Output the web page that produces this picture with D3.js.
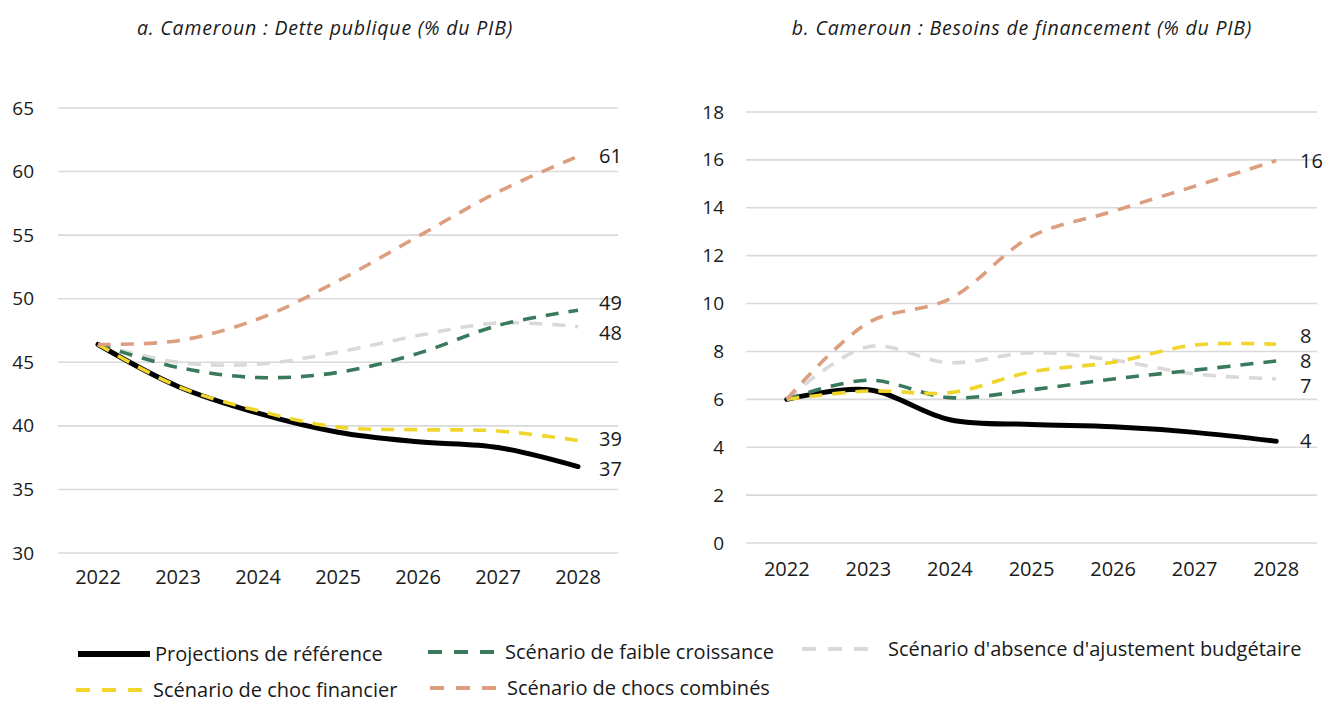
<!DOCTYPE html>
<html>
<head>
<meta charset="utf-8">
<script src="https://cdn.jsdelivr.net/npm/d3@7"></script>
<style>
  html, body { margin: 0; padding: 0; background: #fff; }
  svg { display: block; }
  text { font-family: "Open Sans", "Noto Sans", sans-serif; fill: #1a1a1a; }
</style>
</head>
<body>
<svg id="chart" width="1337" height="702"></svg>
<script>
// Years on the x axis
const years = ["2022", "2023", "2024", "2025", "2026", "2027", "2028"];

// Panel a: public debt (% of GDP)
const detteReference   = [46.4, 43.1, 41.0, 39.5, 38.75, 38.3, 36.8];
const detteFaible      = [46.4, 44.6, 43.8, 44.2, 45.7, 47.9, 49.1];
const detteAjustement  = [46.4, 45.0, 44.85, 45.8, 47.1, 48.1, 47.8];
const detteChocFin     = [46.4, 43.1, 41.2, 39.9, 39.7, 39.6, 38.85];
const detteCombines    = [46.4, 46.7, 48.4, 51.4, 54.9, 58.4, 61.2];

// Panel b: gross financing needs (% of GDP)
const besoinsReference  = [6.0, 6.4, 5.15, 4.95, 4.85, 4.62, 4.25];
const besoinsFaible     = [6.0, 6.8, 6.07, 6.4, 6.85, 7.22, 7.6];
const besoinsAjustement = [6.0, 8.2, 7.53, 7.95, 7.64, 7.06, 6.85];
const besoinsChocFin    = [6.0, 6.35, 6.28, 7.15, 7.55, 8.27, 8.3];
const besoinsCombines   = [6.0, 9.2, 10.2, 12.8, 13.85, 14.9, 15.97];

// Axis ticks
const ticksDette   = [30, 35, 40, 45, 50, 55, 60, 65];
const ticksBesoins = [0, 2, 4, 6, 8, 10, 12, 14, 16, 18];

// Series names and styles
const seriesNames = [
  "Projections de référence",
  "Scénario de faible croissance",
  "Scénario d'absence d'ajustement budgétaire",
  "Scénario de choc financier",
  "Scénario de chocs combinés"
];
const styles = {
  "Projections de référence": { color: "#000000", width: 5, dash: null },
  "Scénario de faible croissance": { color: "#3a7a5c", width: 3.6, dash: "13,10" },
  "Scénario d'absence d'ajustement budgétaire": { color: "#d9d9d9", width: 3.6, dash: "13,10" },
  "Scénario de choc financier": { color: "#f0d62c", width: 3.6, dash: "13,10" },
  "Scénario de chocs combinés": { color: "#dc9e7e", width: 3.6, dash: "13,10" }
};

const FONT = "'Open Sans', 'Noto Sans', sans-serif";
const svg = d3.select("#chart");

function panel(cfg) {
  const g = svg.append("g");
  const x = d3.scaleBand().domain(years).range([cfg.x0, cfg.x1]);
  const y = d3.scaleLinear().domain(cfg.domain).range([cfg.yBottom, cfg.yTop]);
  const cx = d => x(d) + x.bandwidth() / 2;

  // Title
  g.append("text")
    .attr("x", cfg.titleX).attr("y", 35)
    .attr("text-anchor", "middle")
    .style("font-style", "italic")
    .style("font-size", "19.5px")
    .style("letter-spacing", "0.8px")
    .text(cfg.title);

  // Horizontal gridlines
  g.append("g").selectAll("line").data(cfg.ticks).join("line")
    .attr("x1", cfg.x0).attr("x2", cfg.x1)
    .attr("y1", d => y(d)).attr("y2", d => y(d))
    .attr("stroke", "#d9d9d9").attr("stroke-width", 1.6);

  // Y axis labels
  const yAxis = d3.axisLeft(y).tickValues(cfg.ticks).tickSize(0).tickPadding(cfg.yPad);
  g.append("g").attr("transform", `translate(${cfg.x0},0)`).call(yAxis)
    .call(s => s.select(".domain").remove())
    .selectAll("text").style("font-size", "19px").attr("fill", "#1a1a1a")
    .style("font-family", FONT);

  // X axis labels
  const xAxis = d3.axisBottom(x).tickSize(0).tickPadding(cfg.xPad);
  g.append("g").attr("transform", `translate(0,${cfg.yBottom})`).call(xAxis)
    .call(s => s.select(".domain").remove())
    .selectAll("text").style("font-size", "20px").attr("fill", "#1a1a1a")
    .style("font-family", FONT);

  const line = d3.line()
    .x((d, i) => cx(years[i]))
    .y(d => y(d))
    .curve(d3.curveCatmullRom.alpha(0.5));

  // Draw order: reference first, then scenarios
  const order = [0, 2, 1, 3, 4];
  order.forEach(k => {
    const name = seriesNames[k];
    const st = styles[name];
    g.append("path")
      .datum(cfg.series[k])
      .attr("d", line)
      .attr("fill", "none")
      .attr("stroke", st.color)
      .attr("stroke-width", st.width)
      .attr("stroke-linecap", st.dash ? "butt" : "round")
      .attr("stroke-dasharray", st.dash);
  });

  // End labels, nudged apart where they would overlap
  const labels = cfg.series.map(s => ({ v: s[s.length - 1], y: y(s[s.length - 1]) }));
  labels.sort((a, b) => a.y - b.y);
  const minGap = cfg.gap;
  for (let iter = 0; iter < 50; iter++) {
    for (let i = 1; i < labels.length; i++) {
      const d = labels[i].y - labels[i - 1].y;
      if (d < minGap) {
        const push = (minGap - d) / 2;
        labels[i].y += push;
        labels[i - 1].y -= push;
      }
    }
  }
  g.append("g").selectAll("text").data(labels).join("text")
    .attr("x", cfg.labelX)
    .attr("y", d => d.y)
    .attr("dy", "0.35em")
    .style("font-size", "20px")
    .text(d => d3.format(".0f")(d.v));
}

panel({
  title: "a. Cameroun : Dette publique (% du PIB)",
  titleX: 325,
  x0: 58, x1: 618,
  yTop: 108, yBottom: 553,
  domain: [30, 65],
  ticks: ticksDette,
  yPad: 24, xPad: 17,
  labelX: 599,
  gap: 30,
  series: [detteReference, detteFaible, detteAjustement, detteChocFin, detteCombines]
});

panel({
  title: "b. Cameroun : Besoins de financement (% du PIB)",
  titleX: 1022,
  x0: 746, x1: 1317,
  yTop: 112, yBottom: 543,
  domain: [0, 18],
  ticks: ticksBesoins,
  yPad: 22, xPad: 19,
  labelX: 1300,
  gap: 25,
  series: [besoinsReference, besoinsFaible, besoinsAjustement, besoinsChocFin, besoinsCombines]
});

// Legend
const legendItems = [
  { name: seriesNames[0], x: 78, y: 654, len: 72 },
  { name: seriesNames[1], x: 428, y: 652, len: 72 },
  { name: seriesNames[2], x: 802, y: 649, len: 70, textGap: 16 },
  { name: seriesNames[3], x: 76, y: 690, len: 72 },
  { name: seriesNames[4], x: 430, y: 688, len: 72 }
];
const legend = svg.append("g");
legendItems.forEach(it => {
  const st = styles[it.name];
  legend.append("line")
    .attr("x1", it.x).attr("x2", it.x + it.len)
    .attr("y1", it.y).attr("y2", it.y)
    .attr("stroke", st.color)
    .attr("stroke-width", st.dash ? 4 : 6)
    .attr("stroke-dasharray", st.dash ? "14,12" : null);
  legend.append("text")
    .attr("x", it.x + it.len + (it.textGap || 5))
    .attr("y", it.y)
    .attr("dy", "0.33em")
    .style("font-size", "20px")
    .text(it.name);
});
</script>
</body>
</html>
